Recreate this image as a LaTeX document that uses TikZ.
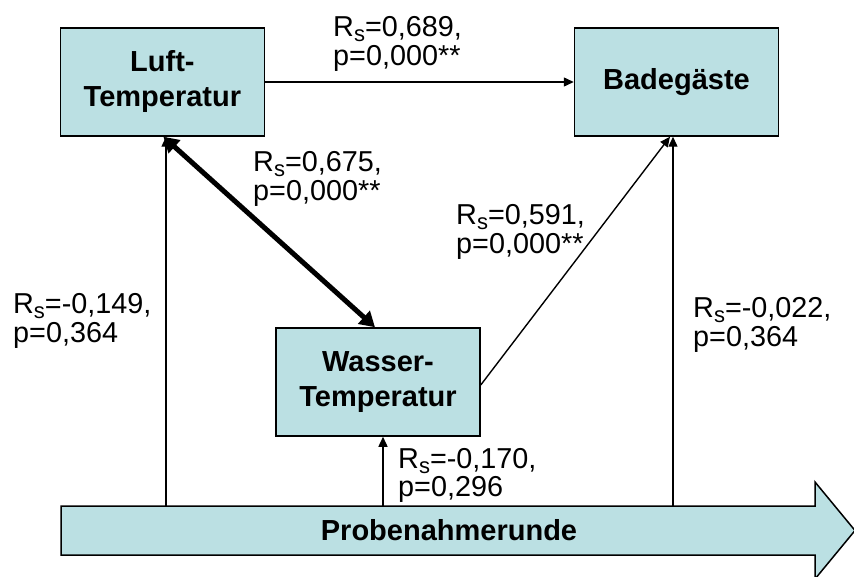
\documentclass[tikz,border=0pt]{standalone}
\usepackage{fontspec}
\setmainfont{Liberation Sans}
\usetikzlibrary{arrows.meta,calc}
\definecolor{boxfill}{RGB}{187,224,227}
\newcommand\rslbl[2]{\vtop{\baselineskip=28.5pt\hbox{R\smash{\raisebox{-5pt}{\fontsize{22}{22}\selectfont s}}=#1,}\hbox{#2}}}
\begin{document}
\begin{tikzpicture}[x=1pt,y=-1pt,
  box/.style={draw=black, line width=1.5pt, fill=boxfill, minimum width=204pt, minimum height=108pt, inner sep=0pt, align=center, font=\fontsize{29}{35}\selectfont\bfseries},
  lbl/.style={anchor=base west, inner sep=0pt, font=\fontsize{28.8}{28}\selectfont},
  conn/.style={line width=1.4pt, -{Triangle[length=10pt,width=9pt]}},
  dbl/.style={line width=5pt, {Triangle[length=15pt,width=17pt]}-{Triangle[length=15pt,width=17pt]}}]
\useasboundingbox (0,0) rectangle (854,577);
\clip (0,0) rectangle (854,577);
% boxes
\node[box] (luft) at (162.4,82) {Luft-\\Temperatur};
\node[box] (bade) at (676.5,82) {Badegäste};
\node[box] (wasser) at (378,382) {Wasser-\\Temperatur};
% Probenahmerunde block arrow
\draw[line width=1.5pt, fill=boxfill] (61,506) -- (815,506) -- (815,482) -- (855,530.5) -- (815,579) -- (815,555) -- (61,555) -- cycle;
\node[font=\fontsize{29}{35}\selectfont\bfseries] (prob) at (449,530.5) {Probenahmerunde};
\coordinate (p1) at (166,506);
\coordinate (p2) at (383,506);
\coordinate (p3) at (673,506);
% connectors
\draw[conn] (luft.east) -- (bade.west);
\draw[conn] (p1) -- (p1 |- luft.south);
\draw[conn] (p2) -- (p2 |- wasser.south);
\draw[conn] (p3) -- (p3 |- bade.south);
\draw[conn] ($(wasser.east)+(0,3)$) -- ($(bade.south)+(-6.5,0)$);
\draw[dbl] ($(luft.south)+(1,0)$) -- ($(wasser.north)+(-3,0)$);
% labels
\node[lbl] (l1) at (333,37) {\rslbl{0,689}{p=0,000**}};
\node[lbl] (l2) at (253,172) {\rslbl{0,675}{p=0,000**}};
\node[lbl] (l3) at (456,225) {\rslbl{0,591}{p=0,000**}};
\node[lbl] (l4) at (13,314) {\rslbl{-0,149}{p=0,364}};
\node[lbl] (l5) at (693,318) {\rslbl{-0,022}{p=0,364}};
\node[lbl] (l6) at (398,468) {\rslbl{-0,170}{p=0,296}};
\end{tikzpicture}
\end{document}
